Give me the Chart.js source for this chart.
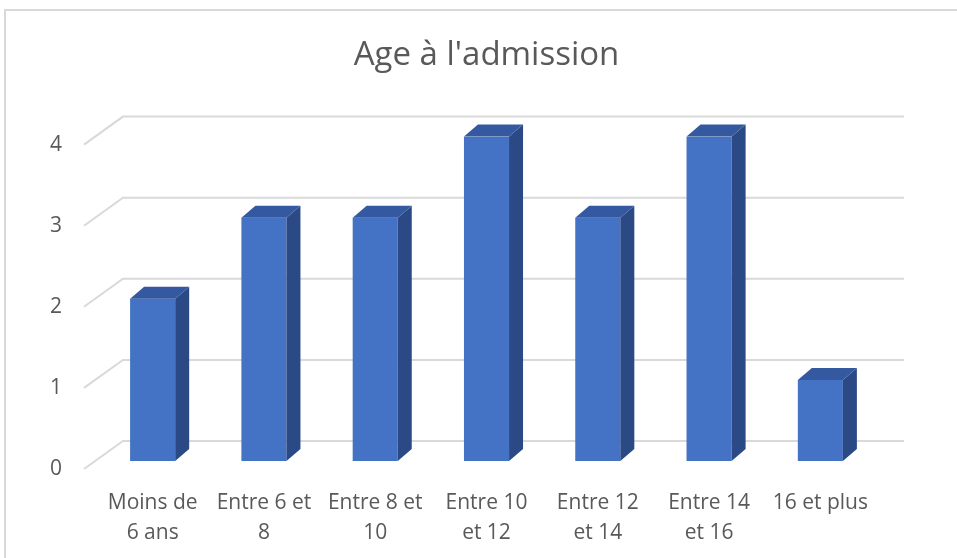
<!DOCTYPE html>
<html>
<head>
<meta charset="utf-8">
<script src="https://cdn.jsdelivr.net/npm/chart.js@4.4.0/dist/chart.umd.min.js"></script>
<style>
    body { margin: 0; background: #fff; }
    #boite { width: 957px; height: 558px; position: relative; }
</style>
</head>
<body>
<div id="boite"><canvas id="graphiqueAge"></canvas></div>
<script>
// données du graphique
var categories = [["Moins de", "6 ans"], ["Entre 6 et", "8"], ["Entre 8 et", "10"], ["Entre 10", "et 12"], ["Entre 12", "et 14"], ["Entre 14", "et 16"], "16 et plus"];
var effectifs = [2, 3, 3, 4, 3, 4, 1];
var graduations = [0, 1, 2, 3, 4];

var couleurTexte = "#595959";
var couleurGrille = "#d9d9d9";

// cadre, grille en perspective et faces 3D des barres
var effet3D = {
    id: "effet3D",
    beforeDraw: function (chart) {
        var ctx = chart.ctx;
        ctx.save();
        ctx.strokeStyle = couleurGrille;
        ctx.lineWidth = 2;
        ctx.beginPath();
        ctx.moveTo(5, chart.height);
        ctx.lineTo(5, 10);
        ctx.lineTo(chart.width, 10);
        ctx.stroke();
        ctx.restore();
    },
    beforeDatasetsDraw: function (chart) {
        var ctx = chart.ctx;
        var y = chart.scales.y;
        var zone = chart.chartArea;
        ctx.save();
        ctx.strokeStyle = couleurGrille;
        ctx.lineWidth = 2;
        for (var i = 0; i < graduations.length; i++) {
            var py = y.getPixelForValue(graduations[i]);
            ctx.beginPath();
            ctx.moveTo(zone.left - 13, py + 8);
            ctx.lineTo(zone.left + 26, py - 20);
            ctx.lineTo(zone.right + 28, py - 20);
            ctx.stroke();
        }
        ctx.restore();
    },
    afterDatasetsDraw: function (chart) {
        var ctx = chart.ctx;
        var meta = chart.getDatasetMeta(0);
        var dx = 14, dy = 12;
        ctx.save();
        meta.data.forEach(function (barre) {
            var p = barre.getProps(["x", "y", "base", "width"], true);
            var g = p.x - p.width / 2;
            var d = p.x + p.width / 2;
            // côté
            ctx.fillStyle = "#2b4a85";
            ctx.beginPath();
            ctx.moveTo(d, p.y);
            ctx.lineTo(d + dx, p.y - dy);
            ctx.lineTo(d + dx, p.base - dy);
            ctx.lineTo(d, p.base);
            ctx.closePath();
            ctx.fill();
            // dessus
            ctx.fillStyle = "#3459a0";
            ctx.beginPath();
            ctx.moveTo(g, p.y);
            ctx.lineTo(g + dx, p.y - dy);
            ctx.lineTo(d + dx, p.y - dy);
            ctx.lineTo(d, p.y);
            ctx.closePath();
            ctx.fill();
        });
        ctx.restore();
    }
};

const ctx1 = document.getElementById("graphiqueAge");

new Chart(ctx1, {
    type: "bar",
    data: {
        labels: categories,
        datasets: [{
            label: "Age à l'admission",
            data: effectifs,
            backgroundColor: "#4472c4",
            borderWidth: 0,
            barPercentage: 0.405,
            categoryPercentage: 1
        }]
    },
    options: {
        responsive: true,
        maintainAspectRatio: false,
        animation: false,
        layout: { padding: { left: 0, right: 81, top: 0, bottom: 0 } },
        plugins: {
            legend: { display: false },
            tooltip: { enabled: false },
            title: {
                display: true,
                fullSize: false,
                text: "Age à l'admission",
                color: couleurTexte,
                font: { family: "Open Sans", size: 33, weight: "normal" },
                padding: { top: 36, bottom: 61 }
            }
        },
        scales: {
            x: {
                grid: { display: false, drawTicks: false },
                border: { display: false },
                ticks: {
                    color: couleurTexte,
                    font: { family: "Open Sans", size: 21, lineHeight: 1.43 },
                    padding: 27,
                    maxRotation: 0,
                    autoSkip: false
                },
                afterFit: function (s) { s.height = 97; }
            },
            y: {
                min: 0,
                max: 4,
                grid: { display: false, drawTicks: false },
                border: { display: false },
                ticks: {
                    stepSize: 1,
                    color: couleurTexte,
                    font: { family: "Open Sans", size: 21 },
                    padding: 35,
                    labelOffset: 8
                },
                afterFit: function (s) { s.width = 97; }
            }
        }
    },
    plugins: [effet3D]
});
</script>
</body>
</html>
